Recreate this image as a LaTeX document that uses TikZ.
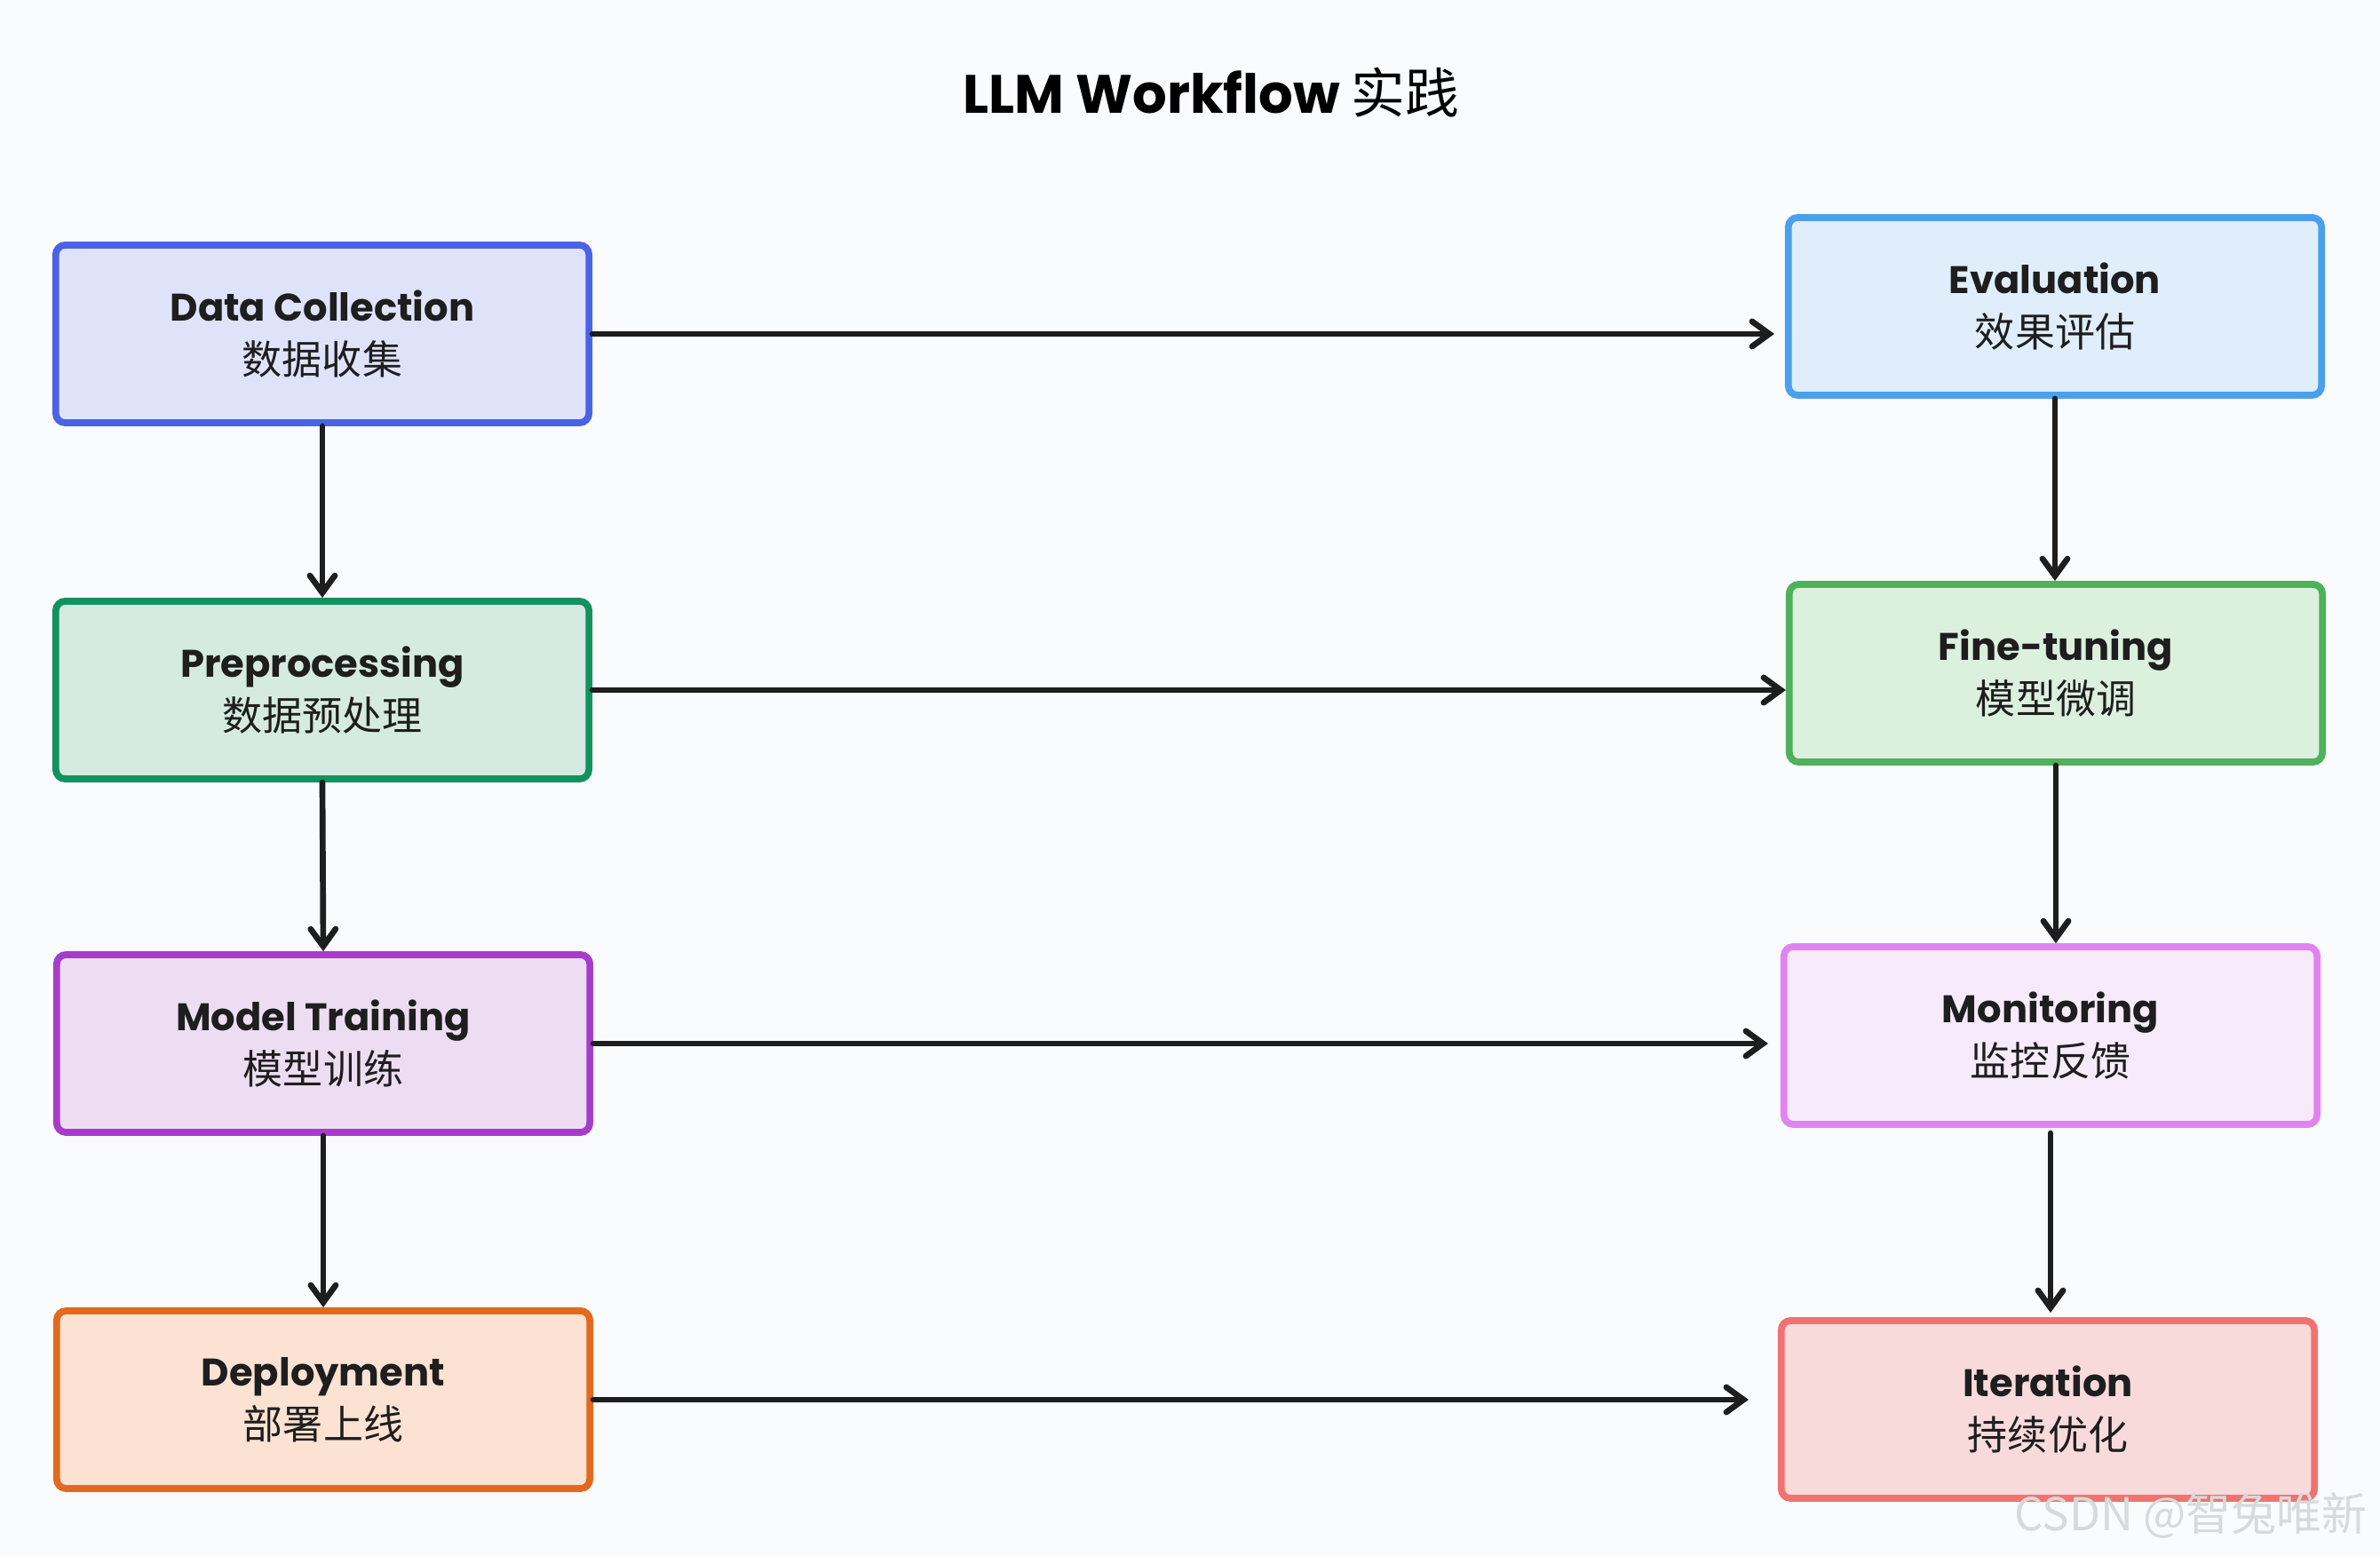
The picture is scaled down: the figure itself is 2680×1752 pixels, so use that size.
\documentclass[tikz,border=0pt]{standalone}
\usepackage{fontspec}
\setmainfont{Poppins}
\newfontfamily\cjk{Noto Sans CJK SC}
\usetikzlibrary{arrows.meta,positioning}
\definecolor{bg}{HTML}{FAFBFC}
\definecolor{ink}{HTML}{1E1E1E}
\definecolor{dcB}{HTML}{4A63E6}\definecolor{dcF}{HTML}{DFE3FA}
\definecolor{prB}{HTML}{13925F}\definecolor{prF}{HTML}{D5EBE2}
\definecolor{mtB}{HTML}{A63DCA}\definecolor{mtF}{HTML}{EDDDF2}
\definecolor{deB}{HTML}{E2691E}\definecolor{deF}{HTML}{FBE2D3}
\definecolor{evB}{HTML}{4BA0EC}\definecolor{evF}{HTML}{DFEEFA}
\definecolor{ftB}{HTML}{4EB15B}\definecolor{ftF}{HTML}{DCF0DE}
\definecolor{moB}{HTML}{DF84EF}\definecolor{moF}{HTML}{F7EAFA}
\definecolor{itB}{HTML}{F07272}\definecolor{itF}{HTML}{F8DADB}
\tikzset{
  stagebox/.style={draw=#1B, fill=#1F, line width=2.2pt, rounded corners=3pt,
    minimum width=6cm, minimum height=2cm, align=center, inner sep=0pt,
    font=\fontsize{12.3pt}{17pt}\selectfont, text=ink},
  arr/.style={draw=ink, line width=1.9pt, line cap=round,
    -{Straight Barb[length=5.5pt,width=8pt,line width=1.9pt,line cap=round]}},
}
\newcommand{\stage}[2]{{\bfseries #1}\\{\fontsize{12.8pt}{17pt}\selectfont\cjk #2}}
\begin{document}
\begin{tikzpicture}[x=0.01cm,y=-0.01cm]
\fill[bg] (0,0) rectangle (2680,1752);
\useasboundingbox (0,0) rectangle (2680,1752);
\node (title) at (1364,104) {\fontsize{17.3pt}{20pt}\selectfont\bfseries LLM Workflow {\cjk\mdseries 实践}};
\node[stagebox=dc] (dc) at (363,376) {\stage{Data Collection}{数据收集}};
\node[stagebox=pr] (pr) at (363,777) {\stage{Preprocessing}{数据预处理}};
\node[stagebox=mt] (mt) at (364,1175) {\stage{Model Training}{模型训练}};
\node[stagebox=de] (de) at (364,1576) {\stage{Deployment}{部署上线}};
\node[stagebox=ev] (ev) at (2314,345) {\stage{Evaluation}{效果评估}};
\node[stagebox=ft] (ft) at (2315,758) {\stage{Fine-tuning}{模型微调}};
\node[stagebox=mo] (mo) at (2309,1166) {\stage{Monitoring}{监控反馈}};
\node[stagebox=it] (it) at (2306,1587) {\stage{Iteration}{持续优化}};
\node[text=black!15, anchor=east, font=\fontsize{14.5pt}{16pt}\selectfont\cjk] (wm) at (2678,1706) {CSDN @智兔唯新};
% horizontal arrows
\draw[arr, shorten >=0.12cm] (dc.east) -- (dc.east -| ev.west);
\draw[arr] (pr.east) -- (pr.east -| ft.west);
\draw[arr, shorten >=0.14cm] (mt.east) -- (mt.east -| mo.west);
\draw[arr, shorten >=0.33cm] (de.east) -- (de.east -| it.west);
% vertical arrows
\draw[arr] (dc.south) -- (pr.north);
\draw[arr] (pr.south) -- (mt.north);
\draw[arr] (mt.south) -- (de.north);
\draw[arr] (ev.south) -- (ev.south |- ft.north);
\draw[arr] (ft.south) -- (ft.south |- mo.north);
\draw[arr, shorten <=0.06cm, shorten >=0.05cm] (mo.south) -- (mo.south |- it.north);
\end{tikzpicture}
\end{document}
